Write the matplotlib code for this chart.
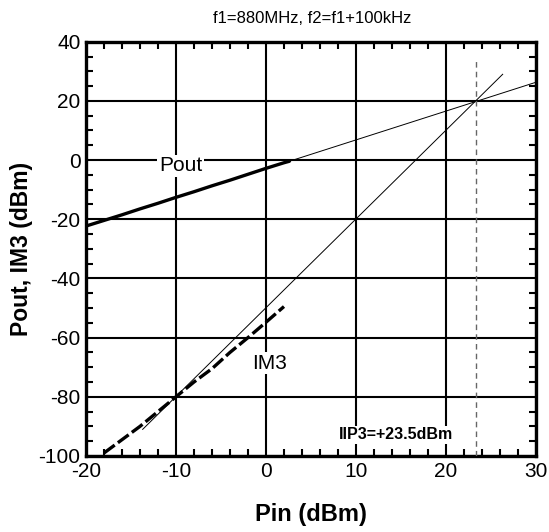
import matplotlib
matplotlib.use('Agg')
import matplotlib.pyplot as plt
from matplotlib.ticker import MultipleLocator

plt.rcParams['font.family'] = ['Liberation Sans', 'DejaVu Sans']
plt.rcParams['axes.unicode_minus'] = False

# measured output power (thick solid)
pin_pout = [-20, -18, -16, -14, -12, -10, -8, -6, -4, -2, 0, 2, 2.6]
pout = [-22.3, -20.4, -18.5, -16.5, -14.6, -12.6, -10.7, -8.7, -6.8, -4.8, -2.8, -0.9, -0.4]

# measured IM3 (thick dashed)
pin_im3 = [-18, -16, -14, -12, -10, -8, -6, -4, -2, 0, 2]
im3 = [-99, -94.5, -90, -85, -80, -75, -70.5, -65, -60, -54.8, -49.5]

# extrapolated lines (thin)
pout_ext_x = [2.6, 30]
pout_ext_y = [-0.4, 26.3]
im3_ext_x = [-13.7, 26.3]
im3_ext_y = [-91.0, 29.0]

iip3 = 23.3
iip3_top = 33.8

fig = plt.figure(figsize=(5.49, 5.32), dpi=100)
ax = fig.add_axes([0.1566, 0.1429, 0.8197, 0.7787])

ax.set_xlim(-20, 30)
ax.set_ylim(-100, 40)
ax.xaxis.set_major_locator(MultipleLocator(10))
ax.xaxis.set_minor_locator(MultipleLocator(2))
ax.yaxis.set_major_locator(MultipleLocator(20))
ax.yaxis.set_minor_locator(MultipleLocator(5))
ax.grid(True, which='major', color='black', linewidth=1.5, zorder=0)
ax.tick_params(which='both', direction='in', top=True, right=True, labelsize=15, width=1.5)
ax.tick_params(which='major', length=0, pad=4)
ax.tick_params(which='minor', length=5)
for sp in ax.spines.values():
	sp.set_linewidth(2.4)

ax.plot(pout_ext_x, pout_ext_y, color='black', linewidth=0.7, zorder=3)
ax.plot(im3_ext_x, im3_ext_y, color='black', linewidth=0.7, zorder=3)
ax.plot(pin_pout, pout, color='black', linewidth=2.4, solid_capstyle='round', zorder=4)
ax.plot(pin_im3, im3, color='black', linewidth=2.4, dashes=(4, 1.2), zorder=4)
ax.plot([iip3, iip3], [-100, iip3_top], color='#666666', linewidth=1.0, dashes=(4, 3), zorder=3)

box = dict(facecolor='white', edgecolor='none', pad=1)
ax.text(-9.5, -2.0, 'Pout', fontsize=15, ha='center', va='center', bbox=box, zorder=5)
ax.text(0.4, -68.6, 'IM3', fontsize=15, ha='center', va='center', bbox=box, zorder=5)
ax.text(14.5, -92.9, 'IIP3=+23.5dBm', fontsize=11.5, fontweight='bold', ha='center', va='center', bbox=box, zorder=5)

fig.text(0.568, 1 - 18.3 / 532, 'f1=880MHz, f2=f1+100kHz', fontsize=12, ha='center', va='center')
ax.set_xlabel('Pin (dBm)', fontsize=17, fontweight='bold', labelpad=16)
ax.set_ylabel('Pout, IM3 (dBm)', fontsize=16.5, fontweight='bold', labelpad=4)

fig.savefig('out.png', dpi=100)
